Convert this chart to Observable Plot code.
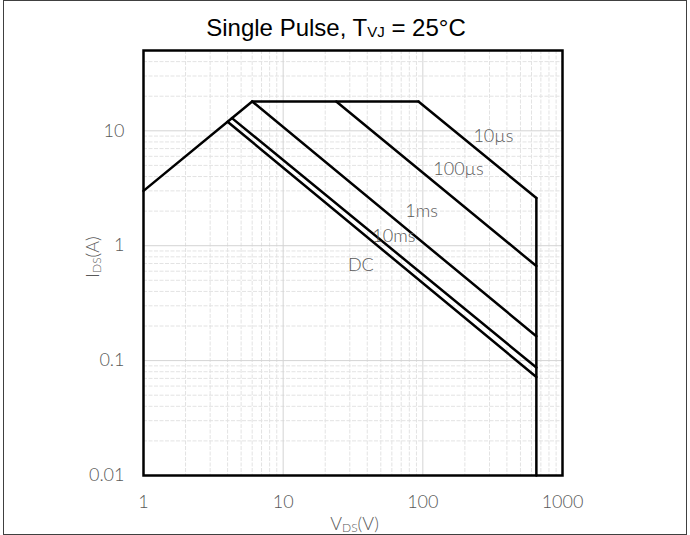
<!DOCTYPE html>
<html>
<head>
<meta charset="utf-8">
<script src="https://cdn.jsdelivr.net/npm/d3@7"></script>
<script src="https://cdn.jsdelivr.net/npm/@observablehq/plot@0.6"></script>
<style>
  body { margin: 0; background: #fff; }
  #chart { width: 690px; height: 535px; }
</style>
</head>
<body>
<div id="chart"></div>
<script>
// ---- data (V in volts, I in amperes) ----
const rdsV = [1, 6],        rdsI = [3, 18];        // RDS(on) limit
const curV = [6, 93],       curI = [18, 18];       // current limit
const us10V = [93, 650],    us10I = [18, 2.6];     // 10 µs
const us100V = [24, 650],   us100I = [18, 0.665];  // 100 µs
const ms1V = [6, 650],      ms1I = [18, 0.163];    // 1 ms
const ms10V = [4.3, 650],   ms10I = [12.9, 0.087]; // 10 ms
const dcV = [4.0, 650],     dcI = [12.0, 0.072];   // DC
const vmaxV = [650, 650],   vmaxI = [2.6, 0.01];   // VDS max

const labelText = ["10µs", "100µs", "1ms", "10ms", "DC"];
const labelV = [320, 180, 98, 62, 36];
const labelI = [9.0, 4.6, 2.0, 1.22, 0.67];

const xTicks = [1, 10, 100, 1000];
const yTicks = [0.01, 0.1, 1, 10];
const xMajorGrid = [10, 100];
const xMinorGrid = [2, 3, 4, 5, 6, 7, 8, 9, 20, 30, 40, 50, 60, 70, 80, 90, 200, 300, 400, 500, 600, 700, 800, 900];
const yMajorGrid = [0.1, 1, 10];
const yMinorGrid = [0.02, 0.03, 0.04, 0.05, 0.06, 0.07, 0.08, 0.09, 0.2, 0.3, 0.4, 0.5, 0.6, 0.7, 0.8, 0.9, 2, 3, 4, 5, 6, 7, 8, 9, 20, 30, 40];

const seriesList = [
  ["rds", rdsV, rdsI], ["cur", curV, curI], ["10us", us10V, us10I],
  ["100us", us100V, us100I], ["1ms", ms1V, ms1I], ["10ms", ms10V, ms10I],
  ["dc", dcV, dcI], ["vmax", vmaxV, vmaxI]
];
const rows = seriesList.flatMap(([s, vs, is]) => vs.map((v, k) => ({series: s, V: v, I: is[k]})));
const labels = labelText.map((t, k) => ({t, V: labelV[k], I: labelI[k]}));

const W = 690, H = 535;
const mL = 143, mR = 128, mT = 50, mB = 60;
const font = "Lato, 'Open Sans', sans-serif";

const plot = Plot.plot({
  width: W, height: H,
  marginLeft: mL, marginRight: mR, marginTop: mT, marginBottom: mB,
  style: {fontFamily: font, fontSize: "18px", color: "#595959", fontWeight: 300, background: "#fff"},
  x: {type: "log", domain: [1, 1000], ticks: xTicks, tickFormat: d => String(d), tickSize: 0, tickPadding: 20, label: null},
  y: {type: "log", domain: [0.01, 50], ticks: yTicks, tickFormat: d => String(d), tickSize: 0, tickPadding: 19, label: null},
  marks: [
    Plot.ruleX(xMinorGrid, {stroke: "#e3e3e3", strokeWidth: 1, strokeDasharray: "4,1.5"}),
    Plot.ruleY(yMinorGrid, {stroke: "#e3e3e3", strokeWidth: 1, strokeDasharray: "4,1.5"}),
    Plot.ruleX(xMajorGrid, {stroke: "#d4d4d4", strokeWidth: 1}),
    Plot.ruleY(yMajorGrid, {stroke: "#d4d4d4", strokeWidth: 1}),
    Plot.line(rows, {x: "V", y: "I", z: "series", stroke: "black", strokeWidth: 2.5, strokeLinejoin: "miter"}),
    Plot.text(labels, {x: "V", y: "I", text: "t", fill: "#595959", fontSize: 18, fontWeight: 300}),
    Plot.frame({stroke: "black", strokeWidth: 2.5})
  ]
});

const svg = d3.select(plot);
// outer border
svg.append("rect").attr("x", 3.5).attr("y", 0.5).attr("width", 683).attr("height", 534)
  .attr("fill", "none").attr("stroke", "#404040").attr("stroke-width", 1);
// title
const title = svg.append("text").attr("x", 336).attr("y", 36).attr("text-anchor", "middle")
  .style("font-family", "'Liberation Sans', Arial, sans-serif").style("font-size", "24px")
  .style("font-weight", 400).attr("fill", "#000");
title.append("tspan").text("Single Pulse, T");
title.append("tspan").attr("font-size", "15px").attr("dy", 1).text("VJ");
title.append("tspan").attr("dy", -1).text(" = 25°C");
// x axis label
const cx = mL + (W - mL - mR) / 2;
const xl = svg.append("text").attr("x", cx + 2).attr("y", 530).attr("text-anchor", "middle")
  .style("font-family", font).style("font-size", "18px").style("font-weight", 300).attr("fill", "#595959");
xl.append("tspan").text("V");
xl.append("tspan").attr("font-size", "12px").attr("dy", 2).text("DS");
xl.append("tspan").attr("dy", -2).text("(V)");
// y axis label
const cy = 257;
const yl = svg.append("text").attr("transform", `translate(99,${cy}) rotate(-90)`).attr("text-anchor", "middle")
  .style("font-family", font).style("font-size", "18px").style("font-weight", 300).attr("fill", "#595959");
yl.append("tspan").text("I");
yl.append("tspan").attr("font-size", "12px").attr("dy", 2).text("DS");
yl.append("tspan").attr("dy", -2).text("(A)");

document.getElementById("chart").appendChild(plot);
</script>
</body>
</html>
